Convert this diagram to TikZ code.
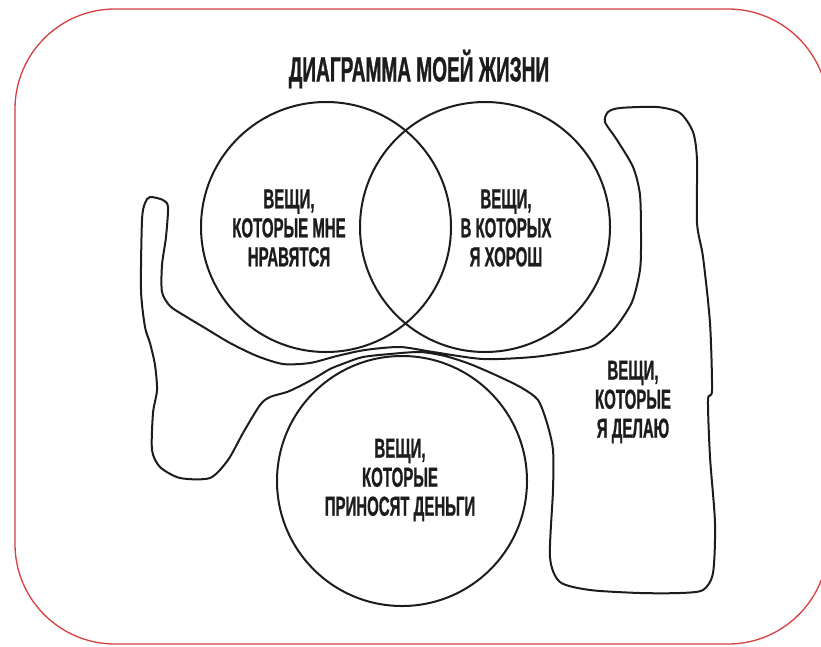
\documentclass[tikz,border=0pt]{standalone}
\usepackage{fontspec}
\newfontfamily\vennfont{Liberation Sans}[FakeStretch=0.545, FakeBold=0.8]
\definecolor{framered}{RGB}{214,62,62}
\definecolor{inkgray}{RGB}{28,28,28}
\tikzset{
  redframe/.style={draw=framered, line width=1.3pt, rounded corners=100pt},
  vennset/.style={circle, draw=inkgray, line width=2pt, minimum size=250pt, inner sep=0pt},
  blob/.style={draw=inkgray, line width=2pt, line join=round},
  tag/.style={font=\vennfont\bfseries\fontsize{27.5}{29}\selectfont, text=inkgray, align=center, inner sep=0pt},
  heading/.style={font=\vennfont\bfseries\fontsize{35}{36}\selectfont, text=inkgray, inner sep=0pt}
}
\begin{document}
\begin{tikzpicture}[x=1pt, y=-1pt]
  \useasboundingbox (0,0) rectangle (821,646);
  \draw[redframe] (15,9) rectangle (828,644);
  \draw[blob] plot[smooth cycle, tension=0.45] coordinates {
    (150,197) (163,200) (168,207) (166,237) (162,265) (162,292) (170,306)
    (185,316) (205,328) (230,343) (257,356) (283,364) (310,363) (337,356)
    (365,350) (400,347) (433,352) (483,359) (533,357) (573,351) (595,345)
    (615,328) (632,302) (640,270) (641,240) (640,195) (633,167) (617,140)
    (605,122) (608,112) (620,108) (657,107) (680,113) (693,132) (697,160)
    (697,223) (703,257) (710,323) (712,390) (708,400) (710,457) (715,523)
    (713,573) (703,590) (680,593) (640,593) (590,590) (560,582) (550,557)
    (553,490) (553,450) (547,423) (538,400) (522,388) (500,377) (470,364)
    (445,356) (420,352) (390,354) (363,357) (345,363) (330,369) (315,378)
    (300,386) (287,392) (270,397) (260,405) (243,433) (228,460) (210,478)
    (180,478) (160,467) (152,450) (153,413) (157,390) (155,365) (150,343)
    (145,327) (141,290) (142,220) (145,203)};
  \node[vennset] (likes) at (326,227) {};
  \node[vennset] (good) at (485,227) {};
  \node[vennset] (money) at (402,481) {};
  \node[heading] (title) at (419,69) {ДИАГРАММА МОЕЙ ЖИЗНИ};
  \node[tag] (likestext) at (289,228) {ВЕЩИ,\\КОТОРЫЕ МНЕ\\НРАВЯТСЯ};
  \node[tag] (goodtext) at (506,228) {ВЕЩИ,\\В КОТОРЫХ\\Я ХОРОШ};
  \node[tag] (moneytext) at (400,480) {ВЕЩИ,\\КОТОРЫЕ\\ПРИНОСЯТ ДЕНЬГИ};
  \node[tag] (dotext) at (633,402) {ВЕЩИ,\\КОТОРЫЕ\\Я ДЕЛАЮ};
\end{tikzpicture}
\end{document}
